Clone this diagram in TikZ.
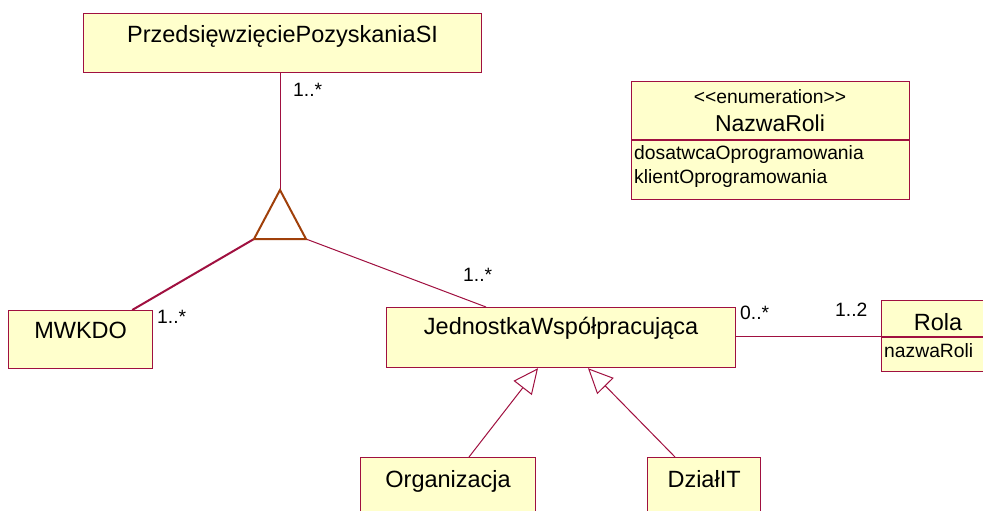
\documentclass[tikz,border=0pt]{standalone}
\usepackage{fontspec}
\setmainfont{Liberation Sans}
\usetikzlibrary{arrows.meta}
\definecolor{umlline}{RGB}{160,16,64}
\definecolor{umlfill}{RGB}{255,255,204}
\definecolor{assocmark}{RGB}{160,64,10}
\tikzset{
  classbox/.style={draw=umlline, fill=umlfill, line width=1.2pt, inner sep=0pt,
    anchor=north west, font=\fontsize{23.5}{28}\selectfont},
  small/.style={inner sep=0pt, font=\fontsize{19.3}{23}\selectfont},
  mult/.style={small, anchor=base west},
  assoc/.style={draw=umlline, line width=1pt},
  inherit/.style={assoc, -{Triangle[open, length=25pt, width=23pt, line width=1pt]}},
}
\begin{document}
\begin{tikzpicture}[x=1pt, y=-1pt]
\clip (0,0) rectangle (983,511);
\fill[white] (0,0) rectangle (983,511);

% classes
\node[classbox, minimum width=398pt, text height=29pt, text depth=30pt] (przed) at (83,13) {PrzedsięwzięciePozyskaniaSI};
\node[classbox, minimum width=144pt, text height=28pt, text depth=30pt] (mwkdo) at (8,310) {MWKDO};
\node[classbox, minimum width=349pt, text height=27pt, text depth=33pt] (jed) at (386,307) {JednostkaWspółpracująca};
\node[classbox, minimum width=175pt, text height=30pt, text depth=40pt] (org) at (360,457) {Organizacja};
\node[classbox, minimum width=113pt, text height=30pt, text depth=40pt] (dzial) at (647,457) {DziałIT};

% class Rola with one attribute
\node[classbox, minimum width=113pt, text height=30pt, text depth=41pt] (rola) at (881,300) {Rola};
\draw[umlline, line width=1.2pt] (rola.west |- 0,337) -- (rola.east |- 0,337);
\node[small, anchor=base west] (rolaattr) at (884,357) {nazwaRoli};

% enumeration NazwaRoli
\node[classbox, minimum width=278pt, minimum height=118pt] (enum) at (631,81) {};
\node[small, anchor=base] (enumstereo) at (770,103) {<{}<enumeration>{}>};
\node[inner sep=0pt, anchor=base, font=\fontsize{23}{28}\selectfont] (enumname) at (770,131) {NazwaRoli};
\draw[umlline, line width=1.2pt] (enum.west |- 0,140) -- (enum.east |- 0,140);
\node[small, anchor=base west] (lit1) at (634,159) {dosatwcaOprogramowania};
\node[small, anchor=base west] (lit2) at (634,183) {klientOprogramowania};

% ternary association marker
\coordinate (apex) at (280,190);
\coordinate (lcorner) at (254,239);
\coordinate (rcorner) at (306,239);

\draw[assoc] (apex |- przed.south) -- (apex);
\draw[assoc, line width=2pt] ([xshift=-21pt]mwkdo.north east) -- (lcorner);
\draw[assoc] (rcorner) -- ([xshift=100pt]jed.north west);
\draw[assocmark, line width=2pt, line join=miter] (apex) -- (lcorner) -- (rcorner) -- cycle;

% association JednostkaWspolpracujaca -- Rola
\draw[assoc] (jed.east |- rola.west) -- (rola.west);

% generalizations
\draw[inherit] ([xshift=109pt]org.north west) -- ([xshift=152pt]jed.south west);
\draw[inherit] ([xshift=28pt]dzial.north west) -- ([xshift=202pt]jed.south west);

% multiplicities
\node[mult] (m1) at (293,96) {1..*};
\node[mult] (m2) at (157,323) {1..*};
\node[mult] (m3) at (463,281) {1..*};
\node[mult] (m4) at (740,319) {0..*};
\node[mult] (m5) at (835,316) {1..2};
\end{tikzpicture}
\end{document}
